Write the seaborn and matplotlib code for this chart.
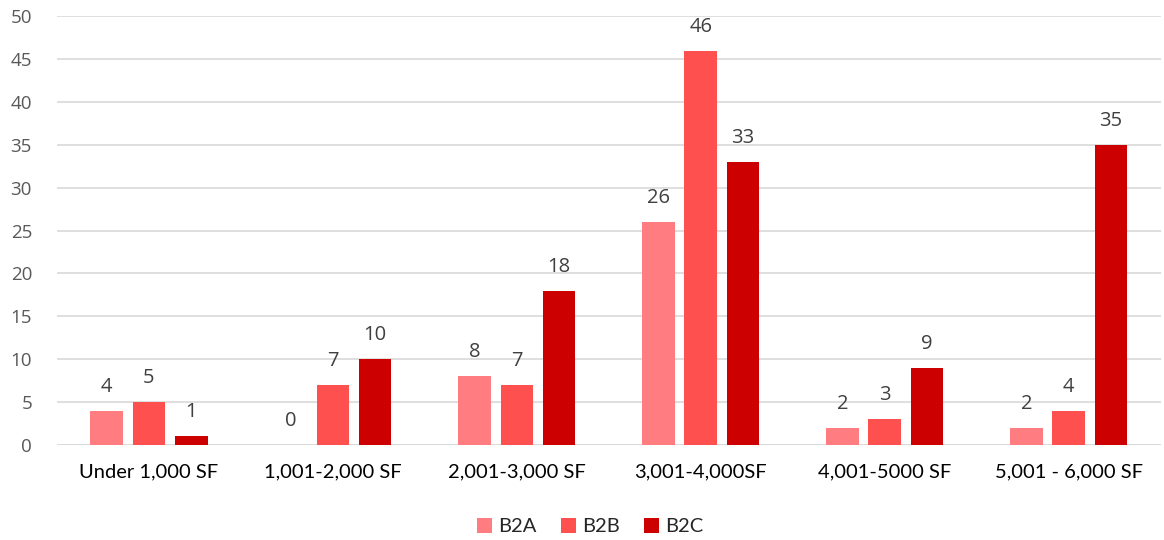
import matplotlib
matplotlib.use("Agg")
import matplotlib.pyplot as plt
import seaborn as sns
import pandas as pd

categories = ["Under 1,000 SF", "1,001-2,000 SF", "2,001-3,000 SF",
              "3,001-4,000SF", "4,001-5000 SF", "5,001 - 6,000 SF"]
series = ["B2A", "B2B", "B2C"]
b2a = [4, 0, 8, 26, 2, 2]
b2b = [5, 7, 7, 46, 3, 4]
b2c = [1, 10, 18, 33, 9, 35]
colors = ["#FF7C80", "#FF5050", "#CC0000"]
y_ticks = list(range(0, 51, 5))

df = pd.DataFrame({
    "category": categories * 3,
    "series": [s for s in series for _ in categories],
    "value": b2a + b2b + b2c,
})

sns.set_theme(style="white")
plt.rcParams["font.family"] = ["Open Sans", "DejaVu Sans"]

fig = plt.figure(figsize=(11.64, 5.4), dpi=100)
ax = fig.add_axes([0.049, 0.176, 0.948, 0.794])

sns.barplot(data=df, x="category", y="value", hue="series", order=categories,
            hue_order=series, palette=colors, width=0.69, gap=0.23,
            saturation=1, errorbar=None, linewidth=0, ax=ax, legend=True)

for cont in ax.containers:
    ax.bar_label(cont, fmt="%g", padding=10, fontsize=14.5, color="#404040")

ax.set_ylim(0, 50)
ax.set_xlim(-0.5, 5.5)
ax.set_yticks(y_ticks)
ax.yaxis.grid(True, color="#D9D9D9", linewidth=1.2)
ax.set_axisbelow(True)
for sp in ax.spines.values():
    sp.set_visible(False)
ax.axhline(0, color="#D9D9D9", linewidth=1.2, zorder=0.5)

ax.tick_params(axis="y", length=0, pad=18, labelsize=13.5, labelcolor="#595959")
ax.tick_params(axis="x", length=0, pad=13, labelsize=14.5, labelcolor="#000000")
for lab in ax.get_xticklabels():
    lab.set_fontfamily(["Lato", "DejaVu Sans"])
ax.set_xlabel("")
ax.set_ylabel("")

handles, labels = ax.get_legend_handles_labels()
ax.legend_.remove()
fig.legend(handles, labels, loc="center", bbox_to_anchor=(0.507, 0.025), ncol=3,
           frameon=False, prop={"family": ["Lato", "DejaVu Sans"], "size": 14.5},
           handlelength=0.75, handleheight=0.75, handletextpad=0.3, columnspacing=1.2)

fig.savefig("out.png", dpi=100)
